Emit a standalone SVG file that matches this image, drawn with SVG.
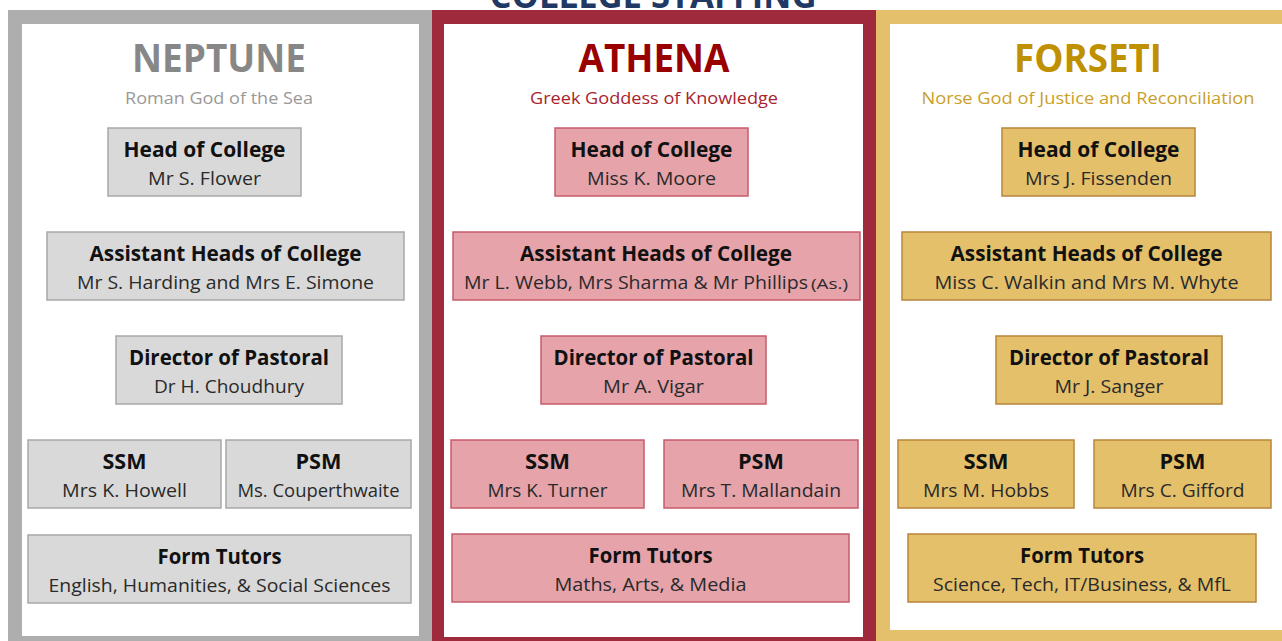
<svg xmlns="http://www.w3.org/2000/svg" width="1282" height="641" viewBox="0 0 1282 641">
<style>
text{font-family:"Open Sans","Liberation Sans",sans-serif;text-anchor:middle}
.t{font-weight:700;font-size:21px;fill:#111}
.s{font-size:19px;fill:#2a2a2a}
.h{font-weight:700;font-size:39px}
.sub{font-size:17px}
.bn{fill:#D9D9D9;stroke:#A8A8A8;stroke-width:1.5}
.ba{fill:#E6A3AA;stroke:#C65C6A;stroke-width:1.5}
.bf{fill:#E4C06A;stroke:#B9853C;stroke-width:1.5}
</style>
<rect width="1282" height="641" fill="#fff"/>
<text x="653" y="8" font-weight="700" font-size="36" fill="#1F3864" textLength="327" lengthAdjust="spacingAndGlyphs">COLLEGE STAFFING</text>

<g id="frame-neptune">
<rect x="8" y="10" width="424" height="640" fill="#AEAEAE"/>
<rect x="22" y="24" width="397" height="612" fill="#fff"/>
<text class="h" x="219" y="72" fill="#878787" textLength="174" lengthAdjust="spacingAndGlyphs">NEPTUNE</text>
<text class="sub" x="219" y="104" fill="#999" textLength="188" lengthAdjust="spacingAndGlyphs">Roman God of the Sea</text>
</g>
<g id="frame-athena">
<rect x="432" y="10" width="444" height="640" fill="#9E2A3B"/>
<rect x="444" y="24" width="419" height="613" fill="#fff"/>
<text class="h" x="654" y="72" fill="#990000" textLength="151" lengthAdjust="spacingAndGlyphs">ATHENA</text>
<text class="sub" x="654" y="104" fill="#A8232D" textLength="248" lengthAdjust="spacingAndGlyphs">Greek Goddess of Knowledge</text>
</g>
<g id="frame-forseti">
<rect x="876" y="10" width="420" height="640" fill="#E4C06C"/>
<rect x="890" y="24" width="400" height="606" fill="#fff"/>
<text class="h" x="1088" y="72" fill="#BF9000" textLength="148" lengthAdjust="spacingAndGlyphs">FORSETI</text>
<text class="sub" x="1088" y="104" fill="#C9A02A" textLength="333" lengthAdjust="spacingAndGlyphs">Norse God of Justice and Reconciliation</text>
</g>

<g id="connectors"></g>

<!-- Neptune -->
<g id="n-head"><rect class="bn" x="108" y="128" width="193" height="68"/>
<text class="t" x="204.5" y="157" textLength="162" lengthAdjust="spacingAndGlyphs">Head of College</text>
<text class="s" x="204.5" y="185" textLength="113" lengthAdjust="spacingAndGlyphs">Mr S. Flower</text></g>
<g id="n-asst"><rect class="bn" x="47" y="232" width="357" height="68"/>
<text class="t" x="225.5" y="261" textLength="272" lengthAdjust="spacingAndGlyphs">Assistant Heads of College</text>
<text class="s" x="225.5" y="289" textLength="297" lengthAdjust="spacingAndGlyphs">Mr S. Harding and Mrs E. Simone</text></g>
<g id="n-dir"><rect class="bn" x="116" y="336" width="226" height="68"/>
<text class="t" x="229" y="365" textLength="200" lengthAdjust="spacingAndGlyphs">Director of Pastoral</text>
<text class="s" x="229" y="393" textLength="150" lengthAdjust="spacingAndGlyphs">Dr H. Choudhury</text></g>
<g id="n-ssm"><rect class="bn" x="28" y="440" width="193" height="68"/>
<text class="t" x="124.5" y="469" textLength="44" lengthAdjust="spacingAndGlyphs">SSM</text>
<text class="s" x="124.5" y="497" textLength="125" lengthAdjust="spacingAndGlyphs">Mrs K. Howell</text></g>
<g id="n-psm"><rect class="bn" x="226" y="440" width="185" height="68"/>
<text class="t" x="318.5" y="469" textLength="46" lengthAdjust="spacingAndGlyphs">PSM</text>
<text class="s" x="318.5" y="497" textLength="162" lengthAdjust="spacingAndGlyphs">Ms. Couperthwaite</text></g>
<g id="n-form"><rect class="bn" x="28" y="535" width="383" height="68"/>
<text class="t" x="219.5" y="564" textLength="124" lengthAdjust="spacingAndGlyphs">Form Tutors</text>
<text class="s" x="219.5" y="592" textLength="342" lengthAdjust="spacingAndGlyphs">English, Humanities, &amp; Social Sciences</text></g>

<!-- Athena -->
<g id="a-head"><rect class="ba" x="555" y="128" width="193" height="68"/>
<text class="t" x="651.5" y="157" textLength="162" lengthAdjust="spacingAndGlyphs">Head of College</text>
<text class="s" x="651.5" y="185" textLength="129" lengthAdjust="spacingAndGlyphs">Miss K. Moore</text></g>
<g id="a-asst"><rect class="ba" x="453" y="232" width="407" height="68"/>
<text class="t" x="656" y="261" textLength="272" lengthAdjust="spacingAndGlyphs">Assistant Heads of College</text>
<text class="s" x="464" y="289" style="text-anchor:start" textLength="344" lengthAdjust="spacingAndGlyphs">Mr L. Webb, Mrs Sharma &amp; Mr Phillips</text>
<text class="s" x="811" y="289" style="text-anchor:start;font-size:15px" textLength="37" lengthAdjust="spacingAndGlyphs">(As.)</text></g>
<g id="a-dir"><rect class="ba" x="541" y="336" width="225" height="68"/>
<text class="t" x="653.5" y="365" textLength="200" lengthAdjust="spacingAndGlyphs">Director of Pastoral</text>
<text class="s" x="653.5" y="393" textLength="101" lengthAdjust="spacingAndGlyphs">Mr A. Vigar</text></g>
<g id="a-ssm"><rect class="ba" x="451" y="440" width="193" height="68"/>
<text class="t" x="547.5" y="469" textLength="45" lengthAdjust="spacingAndGlyphs">SSM</text>
<text class="s" x="547.5" y="497" textLength="120" lengthAdjust="spacingAndGlyphs">Mrs K. Turner</text></g>
<g id="a-psm"><rect class="ba" x="664" y="440" width="194" height="68"/>
<text class="t" x="761" y="469" textLength="46" lengthAdjust="spacingAndGlyphs">PSM</text>
<text class="s" x="761" y="497" textLength="160" lengthAdjust="spacingAndGlyphs">Mrs T. Mallandain</text></g>
<g id="a-form"><rect class="ba" x="452" y="534" width="397" height="68"/>
<text class="t" x="650.5" y="563" textLength="124" lengthAdjust="spacingAndGlyphs">Form Tutors</text>
<text class="s" x="650.5" y="591" textLength="192" lengthAdjust="spacingAndGlyphs">Maths, Arts, &amp; Media</text></g>

<!-- Forseti -->
<g id="f-head"><rect class="bf" x="1002" y="128" width="193" height="68"/>
<text class="t" x="1098.5" y="157" textLength="162" lengthAdjust="spacingAndGlyphs">Head of College</text>
<text class="s" x="1098.5" y="185" textLength="147" lengthAdjust="spacingAndGlyphs">Mrs J. Fissenden</text></g>
<g id="f-asst"><rect class="bf" x="902" y="232" width="369" height="68"/>
<text class="t" x="1086.5" y="261" textLength="272" lengthAdjust="spacingAndGlyphs">Assistant Heads of College</text>
<text class="s" x="1086.5" y="289" textLength="304" lengthAdjust="spacingAndGlyphs">Miss C. Walkin and Mrs M. Whyte</text></g>
<g id="f-dir"><rect class="bf" x="996" y="336" width="226" height="68"/>
<text class="t" x="1109" y="365" textLength="200" lengthAdjust="spacingAndGlyphs">Director of Pastoral</text>
<text class="s" x="1109" y="393" textLength="109" lengthAdjust="spacingAndGlyphs">Mr J. Sanger</text></g>
<g id="f-ssm"><rect class="bf" x="898" y="440" width="176" height="68"/>
<text class="t" x="986" y="469" textLength="45" lengthAdjust="spacingAndGlyphs">SSM</text>
<text class="s" x="986" y="497" textLength="126" lengthAdjust="spacingAndGlyphs">Mrs M. Hobbs</text></g>
<g id="f-psm"><rect class="bf" x="1094" y="440" width="177" height="68"/>
<text class="t" x="1182.5" y="469" textLength="46" lengthAdjust="spacingAndGlyphs">PSM</text>
<text class="s" x="1182.5" y="497" textLength="124" lengthAdjust="spacingAndGlyphs">Mrs C. Gifford</text></g>
<g id="f-form"><rect class="bf" x="908" y="534" width="348" height="68"/>
<text class="t" x="1082" y="563" textLength="124" lengthAdjust="spacingAndGlyphs">Form Tutors</text>
<text class="s" x="1082" y="591" textLength="298" lengthAdjust="spacingAndGlyphs">Science, Tech, IT/Business, &amp; MfL</text></g>
</svg>
